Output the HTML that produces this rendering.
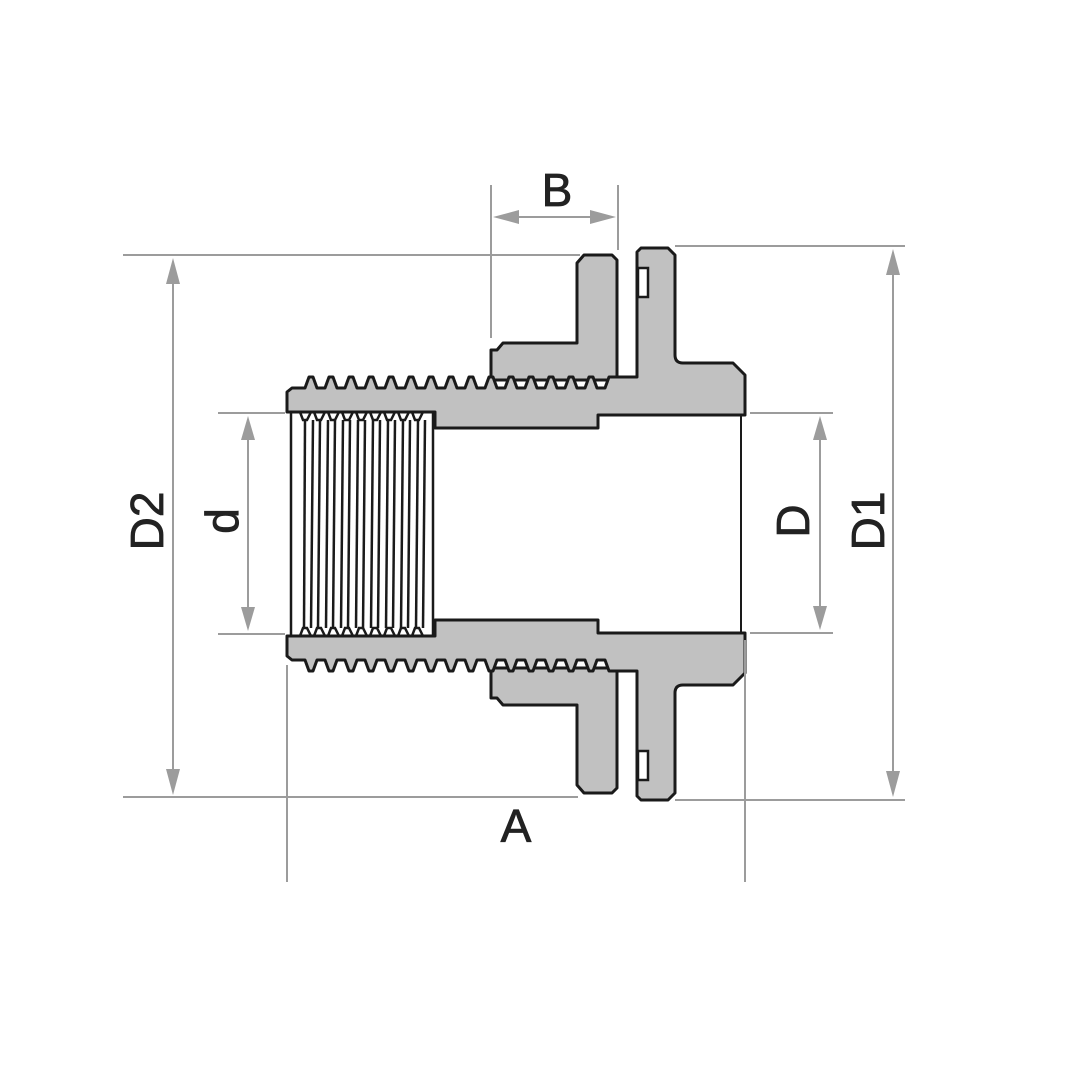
<!DOCTYPE html>
<html><head><meta charset="utf-8"><style>html,body{margin:0;padding:0;background:#fff}svg{display:block}</style></head>
<body>
<svg width="1080" height="1080" viewBox="0 0 1080 1080" xmlns="http://www.w3.org/2000/svg">
<defs>
<g id="half">
  <path d="M491,380 L491,350 L497,350 L503,343 L577,343 L577,263 L584,255 L612,255 L617,260 L617,380 Z"
   fill="#c1c1c1" stroke="#1a1a1a" stroke-width="3" stroke-linejoin="round"/>
  <path d="M287,412 L287,392 L292,388 L305,388
   l4,-11 h4 l4,11 h8 l4,-11 h4 l4,11 h8 l4,-11 h4 l4,11 h8 l4,-11 h4 l4,11 h8 l4,-11 h4 l4,11 h8
   l4,-11 h4 l4,11 h8 l4,-11 h4 l4,11 h8 l4,-11 h4 l4,11 h8 l4,-11 h4 l4,11 h8 l4,-11 h4 l4,11 h8
   l4,-11 h4 l4,11 h8 l4,-11 h4 l4,11 h8 l4,-11 h4 l4,11 h8 l4,-11 h4 l4,11 h8 l4,-11 h4 l4,11 h8
   l4,-11 L637,377 L637,252 L641,248 L668,248 L675,255 L675,355 Q675,363 683,363 L733,363 L745,375 L745,415 L598,415 L598,428 L435,428 L435,412 Z"
   fill="#c1c1c1" stroke="#1a1a1a" stroke-width="3" stroke-linejoin="round"/>
  <rect x="638" y="268" width="10" height="29" fill="#fff" stroke="#1a1a1a" stroke-width="2.5"/>
  <path d="M290,412 L300,412 l3,8 h4 l4,-8 h3 l3,8 h4 l4,-8 h3 l3,8 h4 l4,-8 h3 l3,8 h4 l4,-8 h3 l3,8 h4 l4,-8 h3 l3,8 h4 l4,-8 h3 l3,8 h4 l4,-8 h3 l3,8 h4 l4,-8 h3 l3,8 h4 l4,-8 L435,412" fill="none" stroke="#1a1a1a" stroke-width="2.5"/>
</g>
</defs>
<rect x="289" y="412" width="455" height="224" fill="#fff"/>
<use href="#half"/>
<use href="#half" transform="matrix(1,0,0,-1,0,1048)"/>
<g stroke="#1a1a1a" stroke-width="2.5">
  <line x1="291" y1="412" x2="291" y2="636"/>
  <line x1="305" y1="420" x2="304" y2="628"/>
  <line x1="313" y1="420" x2="311" y2="628"/>
  <line x1="320" y1="420" x2="318" y2="628"/>
  <line x1="328" y1="420" x2="326" y2="628"/>
  <line x1="335" y1="420" x2="333" y2="628"/>
  <line x1="343" y1="420" x2="341" y2="628"/>
  <line x1="350" y1="420" x2="348" y2="628"/>
  <line x1="358" y1="420" x2="356" y2="628"/>
  <line x1="365" y1="420" x2="363" y2="628"/>
  <line x1="373" y1="420" x2="371" y2="628"/>
  <line x1="380" y1="420" x2="378" y2="628"/>
  <line x1="388" y1="420" x2="386" y2="628"/>
  <line x1="395" y1="420" x2="393" y2="628"/>
  <line x1="403" y1="420" x2="401" y2="628"/>
  <line x1="410" y1="420" x2="408" y2="628"/>
  <line x1="418" y1="420" x2="416" y2="628"/>
  <line x1="425" y1="420" x2="423" y2="628"/>
  <line x1="433" y1="412" x2="433" y2="636"/>
  <line x1="741" y1="415" x2="741" y2="633" stroke-width="2"/>
</g>
<g stroke="#9c9c9c" stroke-width="2" fill="none">
  <line x1="123" y1="255" x2="580" y2="255"/>
  <line x1="123" y1="797" x2="578" y2="797"/>
  <line x1="173" y1="270" x2="173" y2="782"/>
  <line x1="218" y1="413" x2="285" y2="413"/>
  <line x1="218" y1="634" x2="285" y2="634"/>
  <line x1="248" y1="428" x2="248" y2="619"/>
  <line x1="750" y1="413" x2="833" y2="413"/>
  <line x1="750" y1="633" x2="833" y2="633"/>
  <line x1="820" y1="428" x2="820" y2="618"/>
  <line x1="675" y1="246" x2="905" y2="246"/>
  <line x1="675" y1="800" x2="905" y2="800"/>
  <line x1="893" y1="262" x2="893" y2="784"/>
  <line x1="491" y1="185" x2="491" y2="338"/>
  <line x1="618" y1="185" x2="618" y2="250"/>
  <line x1="505" y1="217" x2="604" y2="217"/>
  <line x1="287" y1="665" x2="287" y2="882"/>
  <line x1="745" y1="640" x2="745" y2="882"/>
</g>
<g fill="#9c9c9c">
  <polygon points="173,258 166,284 180,284"/><polygon points="173,795 166,769 180,769"/>
  <polygon points="248,416 241,440 255,440"/><polygon points="248,631 241,607 255,607"/>
  <polygon points="820,416 813,440 827,440"/><polygon points="820,630 813,606 827,606"/>
  <polygon points="893,249 886,275 900,275"/><polygon points="893,797 886,771 900,771"/>
  <polygon points="493,217 519,210 519,224"/><polygon points="616,217 590,210 590,224"/>
</g>
<g font-family="'Liberation Sans', sans-serif" font-size="46" fill="#222" text-anchor="middle" stroke="#222" stroke-width="0.8">
  <text x="557" y="206">B</text>
  <text x="516" y="842">A</text>
  <text transform="translate(163,521) rotate(-90)">D2</text>
  <text transform="translate(238,521) rotate(-90)">d</text>
  <text transform="translate(809,521) rotate(-90)">D</text>
  <text transform="translate(884,521) rotate(-90)">D1</text>
</g>
</svg>
</body></html>
